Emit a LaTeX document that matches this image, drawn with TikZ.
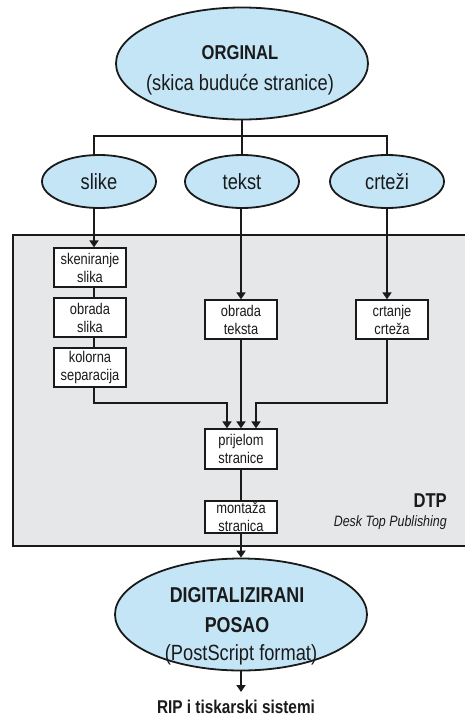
\documentclass[tikz,border=0pt]{standalone}
\usepackage{fontspec}
\setmainfont[FakeStretch=0.83]{Liberation Sans}
\usetikzlibrary{shapes.geometric,arrows.meta}
\definecolor{ellfill}{HTML}{C4E5F6}
\definecolor{dtpgray}{HTML}{E6E7E9}
\definecolor{ink}{HTML}{1A1A1A}
\begin{document}
\begin{tikzpicture}[x=1pt,y=-1pt,
  every node/.style={text=ink},
  ell/.style={ellipse,draw=ink,line width=1.8pt,fill=ellfill,inner sep=0pt},
  bigell/.style={ell,minimum width=252pt,minimum height=112pt},
  smallell/.style={ell,minimum width=114pt,minimum height=53pt,font=\fontsize{22}{24}\selectfont},
  box/.style={draw=ink,line width=1.3pt,fill=white,minimum width=72pt,inner sep=0pt,align=center,font=\fontsize{15.5}{18}\selectfont},
  conn/.style={draw=ink,line width=2pt},
  arr/.style={conn,-{Triangle[width=9pt,length=7pt]}},
  tbold/.style={font=\fontsize{20}{24}\selectfont\bfseries,anchor=base,inner sep=0pt},
  treg/.style={font=\fontsize{22}{24}\selectfont,anchor=base,inner sep=0pt}
]
\useasboundingbox (0,0) rectangle (464,720);
\fill[white] (0,0) rectangle (464,720);

% DTP region
\node[draw=ink,line width=2pt,fill=dtpgray,anchor=north west,minimum width=470pt,minimum height=311pt,inner sep=0pt] (dtp) at (12,234) {};
\node[font=\fontsize{20}{24}\selectfont\bfseries,anchor=base east,inner sep=0pt] (dtpl) at (447,507) {DTP};
\node[font=\fontsize{15}{18}\selectfont\itshape,anchor=base east,inner sep=0pt] (dtpsub) at (447,526) {Desk Top Publishing};

% top ellipse
\node[bigell] (orig) at (242,63.5) {};
\node[tbold] (origt1) at (240,59) {ORGINAL};
\node[treg] (origt2) at (240,90) {(skica buduće stranice)};

% three ellipses
\node[smallell] (slike) at (99,181.5) {slike};
\node[smallell] (tekst) at (242,181.5) {tekst};
\node[smallell] (crtezi) at (387,181.5) {crteži};

\coordinate (barL) at (94,136);
\coordinate (barM) at (242,136);
\coordinate (barR) at (387,136);
\draw[conn] (orig.south) -- (barM);
\draw[conn] (barL |- slike.north) -- (barL) -- (barR) -- (crtezi.north);
\draw[conn] (barM) -- (tekst.north);

% boxes
\node[box,minimum height=39pt] (sken) at (90,267.5) {skeniranje\\slika};
\node[box,minimum height=39pt] (obsl) at (90,317.5) {obrada\\slika};
\node[box,minimum height=39pt] (kolor) at (90,367.5) {kolorna\\separacija};
\node[box,minimum height=39pt] (obtek) at (241,319.5) {obrada\\teksta};
\node[box,minimum height=39pt] (crt) at (392,319.5) {crtanje\\crteža};
\node[box,minimum height=40pt] (prij) at (241,449) {prijelom\\stranice};
\node[box,minimum height=32pt] (mont) at (241,517) {montaža\\stranica};

\draw[arr] (barL |- slike.south) -- (barL |- sken.north);
\draw[conn] (barL |- sken.south) -- (barL |- obsl.north);
\draw[conn] (barL |- obsl.south) -- (barL |- kolor.north);
\draw[arr] (tekst.south -| obtek.north) -- (obtek.north);
\draw[arr] (crtezi.south) -- (crtezi.south |- crt.north);

\coordinate (jL) at (227,403);
\coordinate (jR) at (256,403);
\draw[arr] (barL |- kolor.south) -- (barL |- jL) -- (jL) -- (jL |- prij.north);
\draw[arr] (obtek.south) -- (prij.north);
\draw[arr] (crtezi.south |- crt.south) -- (crtezi.south |- jR) -- (jR) -- (jR |- prij.north);
\draw[conn] (prij.south) -- (mont.north);

% bottom ellipse
\node[bigell] (digi) at (241,614.5) {};
\node[tbold,font=\fontsize{21.5}{24}\selectfont\bfseries] (digit1) at (237,602) {DIGITALIZIRANI};
\node[tbold,font=\fontsize{21.5}{24}\selectfont\bfseries] (digit2) at (237,632) {POSAO};
\node[treg] (digit3) at (241,660) {(PostScript format)};
\draw[arr] (mont.south) -- (digi.north);

\node[font=\fontsize{18.5}{22}\selectfont\bfseries,anchor=base,inner sep=0pt] (rip) at (236,713) {RIP i tiskarski sistemi};
\coordinate (ripend) at (241,692);
\draw[arr] (digi.south) -- (ripend);
\end{tikzpicture}
\end{document}
